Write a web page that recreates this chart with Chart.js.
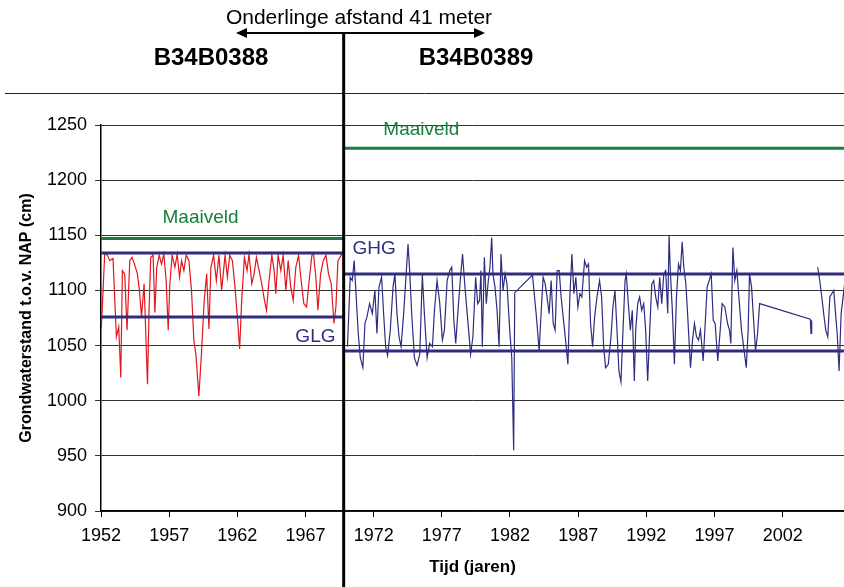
<!DOCTYPE html>
<html>
<head>
<meta charset="utf-8">
<script src="https://cdn.jsdelivr.net/npm/chart.js@4.4.1/dist/chart.umd.min.js"></script>
<style>
  body { margin: 0; background: #fff; }
  canvas { display: block; }
</style>
</head>
<body>
<canvas id="gwChart" width="844" height="587"></canvas>
<script>
/* DATA */
const tickYears = [1952, 1957, 1962, 1967, 1972, 1977, 1982, 1987, 1992, 1997, 2002];
const yearMin = 1952;
const yearMax = 2006.5;
const splitYear = 1969.8;

// B34B0388 (red)
const b388Years = [1952.02, 1952.12, 1952.27, 1952.47, 1952.64, 1952.88, 1953.13, 1953.3, 1953.45, 1953.57,
  1953.74, 1953.91, 1954.11, 1954.28, 1954.48, 1954.67, 1954.82, 1954.97, 1955.16, 1955.41,
  1955.53, 1955.65, 1955.82, 1955.95, 1956.09, 1956.27, 1956.44, 1956.61, 1956.78, 1956.93,
  1957.05, 1957.22, 1957.42, 1957.59, 1957.76, 1957.91, 1958.08, 1958.25, 1958.45, 1958.64,
  1958.81, 1958.96, 1959.18, 1959.38, 1959.57, 1959.75, 1959.92, 1960.06, 1960.26, 1960.46,
  1960.65, 1960.85, 1961.1, 1961.27, 1961.44, 1961.64, 1961.83, 1962.0, 1962.17, 1962.32,
  1962.52, 1962.71, 1962.86, 1963.06, 1963.23, 1963.4, 1963.6, 1963.79, 1963.99, 1964.14,
  1964.33, 1964.53, 1964.7, 1964.82, 1964.99, 1965.19, 1965.36, 1965.56, 1965.73, 1965.92,
  1966.1, 1966.29, 1966.49, 1966.68, 1966.88, 1967.08, 1967.27, 1967.47, 1967.59, 1967.76,
  1967.91, 1968.11, 1968.3, 1968.5, 1968.69, 1968.89, 1969.09, 1969.23, 1969.38, 1969.53, 1969.65];
const b388Levels = [1065, 1091, 1133, 1132, 1127, 1129, 1058, 1067, 1021, 1118,
  1115, 1064, 1127, 1130, 1123, 1115, 1100, 1076, 1106, 1015,
  1085, 1130, 1132, 1080, 1121, 1132, 1124, 1133, 1109, 1064,
  1106, 1132, 1121, 1133, 1112, 1127, 1118, 1132, 1127, 1100,
  1055, 1042, 1004, 1045, 1091, 1115, 1065, 1121, 1132, 1109,
  1132, 1100, 1132, 1112, 1132, 1127, 1103, 1076, 1047, 1091,
  1130, 1118, 1133, 1106, 1115, 1130, 1118, 1106, 1091, 1082,
  1109, 1132, 1118, 1097, 1132, 1118, 1132, 1100, 1127, 1103,
  1091, 1121, 1132, 1109, 1088, 1085, 1109, 1132, 1133, 1112,
  1082, 1115, 1127, 1132, 1115, 1106, 1070, 1085, 1127, 1130, 1133];

// B34B0389 (blue), null = no measurements
const b389Years = [1970.08, 1970.28, 1970.43, 1970.57, 1970.72, 1970.87, 1971.02, 1971.21, 1971.36, 1971.51,
  1971.7, 1971.9, 1972.09, 1972.24, 1972.39, 1972.58, 1972.73, 1972.88, 1973.02, 1973.22,
  1973.42, 1973.56, 1973.71, 1973.86, 1974.01, 1974.2, 1974.4, 1974.52, 1974.64, 1974.79,
  1974.99, 1975.18, 1975.38, 1975.57, 1975.72, 1975.92, 1976.11, 1976.31, 1976.46, 1976.65,
  1976.85, 1977.04, 1977.19, 1977.39, 1977.58, 1977.73, 1977.88, 1978.02, 1978.17, 1978.37,
  1978.52, 1978.66, 1978.86, 1978.98, 1979.11, 1979.28, 1979.48, 1979.63, 1979.77, 1979.87,
  1979.97, 1980.12, 1980.26, 1980.41, 1980.53, 1980.66, 1980.75, 1980.9, 1981.05, 1981.2,
  1981.34, 1981.49, 1981.64, 1981.78, 1981.98, 1982.13, 1982.27, 1982.35, 1983.65, 1983.8,
  1983.94, 1984.14, 1984.28, 1984.43, 1984.58, 1984.72, 1984.87, 1985.02, 1985.17, 1985.31,
  1985.46, 1985.61, 1985.75, 1985.9, 1986.1, 1986.25, 1986.39, 1986.54, 1986.69, 1986.83,
  1986.98, 1987.13, 1987.27, 1987.47, 1987.62, 1987.76, 1987.91, 1988.06, 1988.2, 1988.38,
  1988.57, 1988.72, 1988.87, 1989.01, 1989.21, 1989.41, 1989.55, 1989.7, 1989.85, 1989.99,
  1990.14, 1990.29, 1990.44, 1990.53, 1990.68, 1990.83, 1990.97, 1991.12, 1991.22, 1991.37,
  1991.51, 1991.66, 1991.81, 1991.95, 1992.1, 1992.25, 1992.4, 1992.54, 1992.69, 1992.84,
  1992.98, 1993.13, 1993.28, 1993.42, 1993.57, 1993.67, 1993.77, 1993.92, 1994.06, 1994.21,
  1994.36, 1994.5, 1994.63, 1994.75, 1994.9, 1995.04, 1995.24, 1995.39, 1995.53, 1995.68,
  1995.83, 1995.97, 1996.17, 1996.32, 1996.46, 1996.61, 1996.76, 1996.91, 1997.05, 1997.24,
  1997.42, 1997.56, 1997.76, 1997.96, 1998.1, 1998.2, 1998.35, 1998.49, 1998.64, 1998.79,
  1998.98, 1999.18, 1999.33, 1999.47, 1999.57, 1999.72, 1999.87, 2000.01, 2000.16, 2000.31,
  2004.03, 2004.08, 2004.13, 2004.35, 2004.57, 2004.72, 2004.87, 2005.01, 2005.16, 2005.31,
  2005.46, 2005.6, 2005.75, 2005.9, 2006.0, 2006.14, 2006.29, 2006.49, 2006.63];
const b389Levels = [1049, 1112, 1109, 1127, 1094, 1061, 1039, 1030, 1070, 1076,
  1088, 1079, 1100, 1061, 1103, 1112, 1079, 1049, 1041, 1064,
  1103, 1115, 1079, 1058, 1049, 1079, 1118, 1142, 1118, 1079,
  1039, 1032, 1042, 1114, 1079, 1039, 1052, 1049, 1082, 1109,
  1088, 1055, 1064, 1109, 1118, 1121, 1073, 1052, 1079, 1112,
  1133, 1109, 1079, 1062, 1042, 1058, 1112, 1088, 1091, 1118,
  1049, 1130, 1088, 1109, 1121, 1148, 1115, 1103, 1082, 1049,
  1133, 1100, 1115, 1106, 1064, 1039, 955, 1098, 1114, 1094,
  1076, 1045, 1079, 1112, 1106, 1094, 1079, 1109, 1070, 1064,
  1118, 1118, 1094, 1076, 1052, 1033, 1094, 1133, 1097, 1112,
  1085, 1097, 1094, 1127, 1121, 1124, 1070, 1049, 1075, 1094,
  1109, 1094, 1049, 1030, 1033, 1058, 1085, 1100, 1064, 1027,
  1017, 1064, 1109, 1115, 1088, 1064, 1082, 1018, 1064, 1088,
  1094, 1082, 1088, 1064, 1018, 1064, 1106, 1109, 1094, 1085,
  1112, 1088, 1115, 1118, 1079, 1150, 1115, 1079, 1033, 1094,
  1124, 1118, 1144, 1121, 1106, 1076, 1030, 1055, 1070, 1058,
  1055, 1064, 1036, 1070, 1103, 1109, 1115, 1073, 1070, 1036,
  1064, 1088, 1085, 1070, 1064, 1052, 1139, 1109, 1118, 1094,
  1064, 1045, 1030, 1064, 1115, 1103, 1073, 1045, 1061, 1088,
  1074, 1061, 1073, null, 1121, 1109, 1094, 1079, 1064, 1058,
  1094, 1097, 1100, 1076, 1061, 1027, 1079, 1100, 1115];

// [B34B0388, B34B0389]
const maaiveld = [1147, 1229];
const ghg = [1134, 1115];
const glg = [1076, 1045];

const GREEN = '#16803a';
const NAVY = '#2e2d80';
const FONT = "'Liberation Sans', Arial, sans-serif";

function pts(xs, ys) {
  return xs.map((x, i) => ({ x: x, y: ys[i] }));
}
function levelLine(values, side) {
  const from = side === 0 ? yearMin : splitYear;
  const to = side === 0 ? splitYear : yearMax;
  return [{ x: from, y: values[side] }, { x: to, y: values[side] }];
}
function refSet(values, side, color) {
  return { data: levelLine(values, side), borderColor: color, borderWidth: 3, pointRadius: 0 };
}

// labels, arrow, titles and the dividing line
const decorPlugin = {
  id: 'decor',
  afterDraw(chart) {
    const ctx = chart.ctx;
    const xs = chart.scales.x, ys = chart.scales.y;
    ctx.save();

    ctx.fillStyle = '#000';
    ctx.textAlign = 'center';
    ctx.textBaseline = 'middle';
    ctx.font = '21px ' + FONT;
    ctx.fillText('Onderlinge afstand 41 meter', 359, 18);
    ctx.font = 'bold 24px ' + FONT;
    ctx.fillText('B34B0388', 211, 58);
    ctx.fillText('B34B0389', 476, 58);

    ctx.strokeStyle = '#000';
    ctx.lineWidth = 2;
    ctx.beginPath();
    ctx.moveTo(245, 33); ctx.lineTo(476, 33);
    ctx.stroke();
    ctx.beginPath();
    ctx.moveTo(236, 33); ctx.lineTo(247, 28); ctx.lineTo(247, 38); ctx.closePath();
    ctx.moveTo(485, 33); ctx.lineTo(474, 28); ctx.lineTo(474, 38); ctx.closePath();
    ctx.fill();

    ctx.lineWidth = 1;
    ctx.strokeStyle = '#222';
    ctx.beginPath();
    ctx.moveTo(5, 93.5); ctx.lineTo(844, 93.5);
    ctx.stroke();

    const notes = [
      { text: 'Maaiveld', x: 1959.3, y: 1166, color: GREEN, align: 'center' },
      { text: 'Maaiveld', x: 1975.5, y: 1246, color: GREEN, align: 'center' },
      { text: 'GHG', x: 1970.45, y: 1137.5, color: NAVY, align: 'left' },
      { text: 'GLG', x: 1969.2, y: 1057.6, color: NAVY, align: 'right' }
    ];
    ctx.font = '19px ' + FONT;
    notes.forEach(n => {
      ctx.fillStyle = n.color;
      ctx.textAlign = n.align;
      ctx.fillText(n.text, xs.getPixelForValue(n.x), ys.getPixelForValue(n.y));
    });

    const sx = xs.getPixelForValue(splitYear);
    ctx.strokeStyle = '#000';
    ctx.lineWidth = 3;
    ctx.beginPath();
    ctx.moveTo(sx, 33); ctx.lineTo(sx, chart.height);
    ctx.stroke();
    ctx.restore();
  }
};

new Chart(document.getElementById('gwChart'), {
  type: 'line',
  data: {
    datasets: [
      refSet(maaiveld, 0, GREEN),
      refSet(maaiveld, 1, GREEN),
      refSet(ghg, 0, NAVY),
      refSet(ghg, 1, NAVY),
      refSet(glg, 0, NAVY),
      refSet(glg, 1, NAVY),
      { data: pts(b388Years, b388Levels), borderColor: '#e3161c', borderWidth: 1.2, pointRadius: 0 },
      { data: pts(b389Years, b389Levels), borderColor: NAVY, borderWidth: 1.2, pointRadius: 0 }
    ]
  },
  options: {
    responsive: false,
    animation: false,
    spanGaps: false,
    layout: { padding: { top: 125, right: 0, bottom: 0, left: 0 } },
    plugins: { legend: { display: false }, tooltip: { enabled: false } },
    scales: {
      x: {
        type: 'linear',
        min: yearMin,
        max: yearMax,
        afterBuildTicks: s => { s.ticks = tickYears.map(v => ({ value: v })); },
        afterFit: s => { s.height = 76; },
        ticks: { color: '#000', font: { family: FONT, size: 18 }, padding: 8, maxRotation: 0, callback: v => String(v) },
        grid: { drawOnChartArea: false, tickLength: 6, color: '#000' },
        border: { color: '#000', width: 1.5 },
        title: { display: true, text: 'Tijd (jaren)', color: '#000', font: { family: FONT, size: 17, weight: 'bold' }, padding: { top: 0, bottom: 9 } }
      },
      y: {
        min: 900,
        max: 1250,
        afterFit: s => { s.width = 101; },
        ticks: { stepSize: 50, color: '#000', font: { family: FONT, size: 18 }, padding: 8, callback: v => String(v) },
        grid: { color: '#333', lineWidth: 1, tickLength: 6 },
        border: { color: '#000', width: 1.5 },
        title: { display: true, text: 'Grondwaterstand t.o.v. NAP (cm)', color: '#000', font: { family: FONT, size: 16, weight: 'bold' }, padding: { top: 17, bottom: 0 } }
      }
    }
  },
  plugins: [decorPlugin]
});
</script>
</body>
</html>
